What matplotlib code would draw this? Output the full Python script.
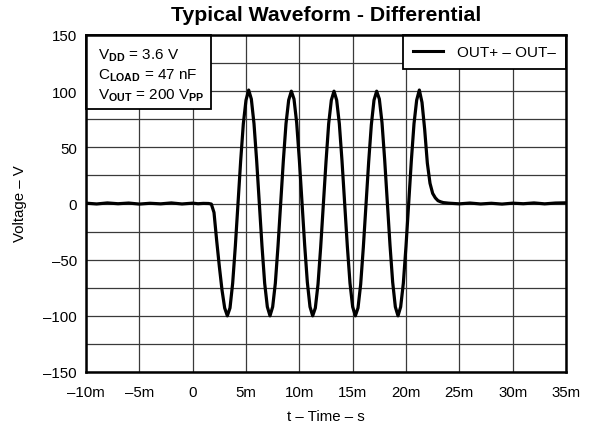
import matplotlib
matplotlib.use("Agg")
import matplotlib.pyplot as plt
from matplotlib.patches import Rectangle

plt.rcParams['font.family'] = ['Liberation Sans', 'DejaVu Sans']
plt.rcParams['mathtext.fontset'] = 'custom'
plt.rcParams['mathtext.rm'] = 'Liberation Sans'
plt.rcParams['mathtext.bf'] = 'Liberation Sans:bold'

# ---- data (time in ms, voltage in V) ----
base_t = [-10, -9, -8, -7, -6, -5, -4, -3, -2, -1, 0, 0.5, 1.0, 1.5, 1.75]
base_v = [0.3, -0.4, 0.5, -0.2, 0.4, -0.5, 0.2, -0.3, 0.5, -0.4, 0.3, -0.2, 0.1, 0.0, -0.5]

wave_t = [2.0, 2.25, 2.5, 2.75, 3.0, 3.25, 3.5, 3.75,
          4.0, 4.25, 4.5, 4.75, 5.0, 5.25, 5.5, 5.75,
          6.0, 6.25, 6.5, 6.75, 7.0, 7.25, 7.5, 7.75,
          8.0, 8.25, 8.5, 8.75, 9.0, 9.25, 9.5, 9.75,
          10.0, 10.25, 10.5, 10.75, 11.0, 11.25, 11.5, 11.75,
          12.0, 12.25, 12.5, 12.75, 13.0, 13.25, 13.5, 13.75,
          14.0, 14.25, 14.5, 14.75, 15.0, 15.25, 15.5, 15.75,
          16.0, 16.25, 16.5, 16.75, 17.0, 17.25, 17.5, 17.75,
          18.0, 18.25, 18.5, 18.75, 19.0, 19.25, 19.5, 19.75,
          20.0, 20.25, 20.5, 20.75, 21.0, 21.25]
wave_v = [-8, -33, -56, -77, -93, -100, -93, -71,
          -38, 0, 38, 71, 92, 101, 93, 71,
          38, 0, -38, -71, -92, -100, -92, -71,
          -38, 0, 38, 71, 92, 100, 93, 72,
          39, 1, -37, -70, -92, -100, -93, -72,
          -39, -1, 37, 71, 92, 100, 92, 71,
          38, 0, -38, -71, -92, -100, -93, -72,
          -39, -1, 37, 70, 92, 100, 93, 72,
          39, 1, -37, -70, -92, -100, -92, -71,
          -38, 0, 38, 71, 92, 101]

tail_t = [21.5, 21.75, 22.0, 22.25, 22.5, 22.75, 23.0, 23.25, 23.5, 24,
          25, 26, 27, 28, 29, 30, 31, 32, 33, 34, 35]
tail_v = [90, 66, 36, 18, 9, 5, 2.5, 1.5, 0.8, 0.3,
          -0.3, 0.4, -0.4, 0.2, -0.5, 0.3, -0.2, 0.5, -0.3, 0.4, 0.6]

x_ticks = [-10, -5, 0, 5, 10, 15, 20, 25, 30, 35]
x_labels = ['\u201310m', '\u20135m', '0', '5m', '10m', '15m', '20m', '25m', '30m', '35m']
y_ticks = [-150, -100, -50, 0, 50, 100, 150]
y_labels = ['\u2013150', '\u2013100', '\u201350', '0', '50', '100', '150']

note_lines = ['V$_{\\mathbf{DD}}$ = 3.6 V',
              'C$_{\\mathbf{LOAD}}$ = 47 nF',
              'V$_{\\mathbf{OUT}}$ = 200 V$_{\\mathbf{PP}}$']

t_all = base_t + wave_t + tail_t
v_all = base_v + wave_v + tail_v

W, H = 592, 431
fig = plt.figure(figsize=(W / 100, H / 100), dpi=100)
ax = fig.add_axes([86 / W, (H - 373) / H, (566 - 86) / W, (373 - 36) / H])

ax.plot(t_all, v_all, color='black', lw=2.3, solid_joinstyle='round', zorder=3,
        label='OUT+ \u2013 OUT\u2013')

ax.set_xlim(-10, 35)
ax.set_ylim(-150, 150)
ax.set_xticks(x_ticks)
ax.set_xticklabels(x_labels, fontsize=10.8)
ax.set_yticks(y_ticks)
ax.set_yticklabels(y_labels, fontsize=10.8)
ax.set_yticks(range(-150, 151, 25), minor=True)
ax.tick_params(which='both', length=0)
ax.tick_params(axis='x', pad=9.5)
ax.tick_params(axis='y', pad=6.5)
ax.grid(True, which='major', color='#3a3a3a', lw=0.9)
ax.grid(True, which='minor', axis='y', color='#3a3a3a', lw=0.9)
for s in ax.spines.values():
    s.set_linewidth(1.8)
    s.set_zorder(7)

fig.text(326 / W, 1 - 417 / H, 't \u2013 Time \u2013 s', fontsize=10.8, ha='center', va='center')
fig.text(20 / W, 1 - 204 / H, 'Voltage \u2013 V', fontsize=10.8, ha='center', va='center',
         rotation=90)
fig.text(326 / W, 1 - 21 / H, 'Typical Waveform - Differential', fontsize=15.3,
         fontweight='bold', ha='center', va='baseline')

leg = ax.legend(loc='upper right', fontsize=11, frameon=True, fancybox=False,
                borderaxespad=0, handlelength=2.0, borderpad=0.65, handletextpad=0.9)
leg.get_frame().set_edgecolor('black')
leg.get_frame().set_linewidth(1.3)
leg.get_frame().set_alpha(1)
leg.set_zorder(6)
for h in leg.get_lines():
    h.set_linewidth(2.2)

ax.add_patch(Rectangle((0, 1 - (110 - 36) / 337), (211 - 86) / 480, (110 - 36) / 337,
                       transform=ax.transAxes, facecolor='white', edgecolor='black',
                       lw=1.3, zorder=6, clip_on=False))
for i, line in enumerate(note_lines):
    ax.text(12 / 480, 1 - (23.5 + 20 * i) / 337, line, transform=ax.transAxes,
            ha='left', va='baseline', fontsize=11, zorder=8)

fig.savefig('out.png', dpi=100)
